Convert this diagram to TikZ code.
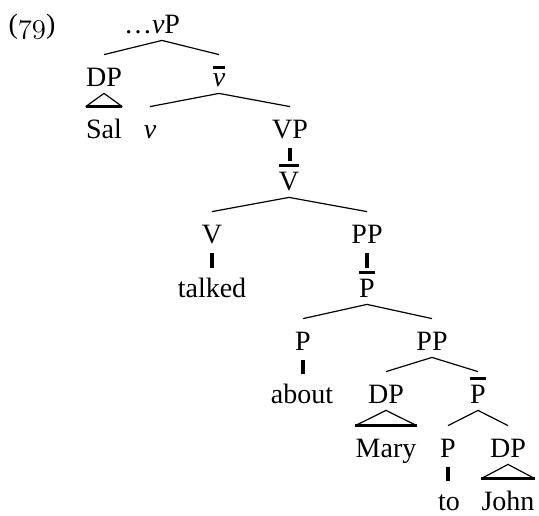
\documentclass[tikz,border=0pt]{standalone}
\usepackage{fontspec}
\setmainfont{Liberation Serif}

\newcommand{\xbar}[1]{{\setbox0\hbox{#1}\vbox{\hrule height 1.5pt width \wd0 \kern 2.2pt \box0}}}
\newcommand{\exnum}[1]{{\usefont{OML}{cmm}{m}{it}#1}}

\begin{document}
\begin{tikzpicture}[
        x=0.5pt, y=-0.5pt,
        cat/.style={anchor=base, inner sep=0pt, text height=15.5pt, text depth=3.5pt},
        branch/.style={line width=0.6pt},
        unary/.style={line width=1.6pt},
        roofbase/.style={line width=1.6pt},
        font=\fontsize{14}{17}\selectfont
    ]
    \useasboundingbox (0,0) rectangle (539,515);

    % Numero do exemplo
    \node[cat] (ex) at (32,33) {(\exnum{79})};

    % Categorias e palavras
    \node[cat] (top) at (152,33) {\ldots\textit{v}P};
    \node[cat] (dpsal) at (104,86) {DP};
    \node[cat] (vbar) at (219,86) {\xbar{\textit{v}}};
    \node[cat] (sal) at (104,138) {Sal};
    \node[cat] (vhead) at (150,138) {\textit{v}};
    \node[cat] (vp) at (290,138) {VP};
    \node[cat] (Vbar) at (289,190) {\xbar{V}};
    \node[cat] (V) at (212,243) {V};
    \node[cat] (ppa) at (367,243) {PP};
    \node[cat] (talked) at (212,297) {talked};
    \node[cat] (pbara) at (367,297) {\xbar{P}};
    \node[cat] (pa) at (303,350) {P};
    \node[cat] (ppb) at (432,350) {PP};
    \node[cat] (about) at (302,403) {about};
    \node[cat] (dpmary) at (386,403) {DP};
    \node[cat] (pbarb) at (478,403) {\xbar{P}};
    \node[cat] (mary) at (386,457) {Mary};
    \node[cat] (pb) at (448,457) {P};
    \node[cat] (dpjohn) at (508,457) {DP};
    \node[cat] (to) at (449,510) {to};
    \node[cat] (john) at (508,510) {John};

    % Ramos
    \draw[branch] ([xshift=5pt]top.south) -- (dpsal.north);
    \draw[branch] ([xshift=5pt]top.south) -- (vbar.north);
    \draw[branch] (vbar.south) -- (vhead.north);
    \draw[branch] (vbar.south) -- (vp.north);
    \draw[branch] (Vbar.south) -- (V.north);
    \draw[branch] (Vbar.south) -- (ppa.north);
    \draw[branch] (pbara.south) -- (pa.north);
    \draw[branch] (pbara.south) -- (ppb.north);
    \draw[branch] (ppb.south) -- (dpmary.north);
    \draw[branch] (ppb.south) -- (pbarb.north);
    \draw[branch] (pbarb.south) -- (pb.north);
    \draw[branch] (pbarb.south) -- (dpjohn.north);

    % Ramos unarios
    \draw[unary] ([yshift=-1.5pt]vp.south) -- ([yshift=-1pt]vp.south |- Vbar.north);
    \draw[unary] ([yshift=-1.5pt]V.south) -- ([yshift=-1pt]V.south |- talked.north);
    \draw[unary] ([yshift=-1.5pt]ppa.south) -- ([yshift=-1pt]ppa.south |- pbara.north);
    \draw[unary] ([yshift=-1.5pt]pa.south) -- ([yshift=-1pt]pa.south |- about.north);
    \draw[unary] ([yshift=-1.5pt]pb.south) -- ([yshift=-1pt]pb.south |- to.north);

    % Triangulos
    \draw[branch] (sal.north west) -- (dpsal.south) -- (sal.north east);
    \draw[roofbase] (sal.north west) -- (sal.north east);
    \draw[branch] (mary.north west) -- (dpmary.south) -- (mary.north east);
    \draw[roofbase] (mary.north west) -- (mary.north east);
    \draw[branch] (john.north west) -- (dpjohn.south) -- (john.north east);
    \draw[roofbase] (john.north west) -- (john.north east);

\end{tikzpicture}
\end{document}
